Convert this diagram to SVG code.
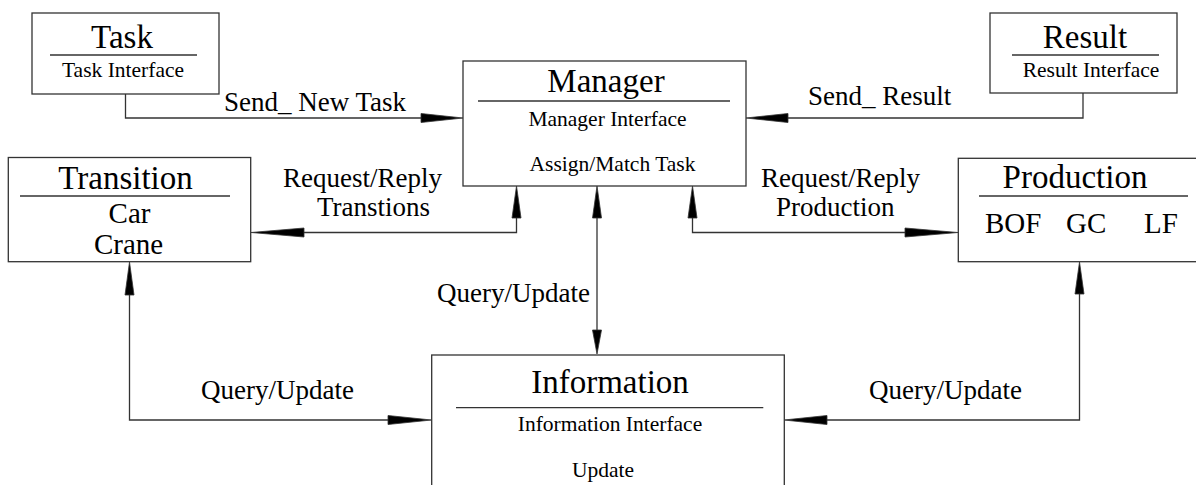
<svg xmlns="http://www.w3.org/2000/svg" width="1196" height="485" viewBox="0 0 1196 485">
  <style>
    .box { fill: #ffffff; stroke: #333333; stroke-width: 1.3; }
    .sep { stroke: #333333; stroke-width: 1.3; }
    .ln { fill: none; stroke: #333333; stroke-width: 1.3; }
    .ah { fill: #000000; stroke: #333333; stroke-width: 0.8; stroke-linejoin: miter; }
    text { font-family: "Liberation Serif", "Times New Roman", serif; fill: #000000; }
    .title { font-size: 33px; }
    .sub { font-size: 21.5px; }
    .item { font-size: 29px; }
    .lbl { font-size: 27px; }
  </style>

  <rect width="1196" height="485" fill="#ffffff"/>

  <!-- connectors between the modules -->
  <g id="connectors">
    <!-- Task -> Manager -->
    <polyline class="ln" points="125.5,94 125.5,118 440,118"/>
    <polygon class="ah" points="463,118 421,113.5 421,122.5"/>
    <text class="lbl" x="224" y="111">Send_ New Task</text>

    <!-- Result -> Manager -->
    <polyline class="ln" points="1083,93 1083,118 770,118"/>
    <polygon class="ah" points="746,118 788,113.5 788,122.5"/>
    <text class="lbl" x="808" y="105">Send_ Result</text>

    <!-- Manager <-> Transition -->
    <polyline class="ln" points="516.5,205 516.5,232.5 280,232.5"/>
    <polygon class="ah" points="516.5,186 512,218 521,218"/>
    <polygon class="ah" points="251,232.5 304,228 304,237"/>
    <text class="lbl" x="283" y="187">Request/Reply</text>
    <text class="lbl" x="317" y="216">Transtions</text>

    <!-- Manager <-> Production -->
    <polyline class="ln" points="692.5,205 692.5,232.5 935,232.5"/>
    <polygon class="ah" points="692.5,186 688,218 697,218"/>
    <polygon class="ah" points="958,232.5 905,228 905,237"/>
    <text class="lbl" x="761" y="187">Request/Reply</text>
    <text class="lbl" x="776" y="216">Production</text>

    <!-- Manager <-> Information -->
    <line class="ln" x1="597" y1="205" x2="597" y2="340"/>
    <polygon class="ah" points="597,186 592.5,218 601.5,218"/>
    <polygon class="ah" points="597,354 592.5,330 601.5,330"/>
    <text class="lbl" x="437" y="302">Query/Update</text>

    <!-- Transition <-> Information -->
    <polyline class="ln" points="129.5,280 129.5,420 410,420"/>
    <polygon class="ah" points="129.5,262 125,295 134,295"/>
    <polygon class="ah" points="431.5,420 388,415.5 388,424.5"/>
    <text class="lbl" x="201" y="399">Query/Update</text>

    <!-- Production <-> Information -->
    <polyline class="ln" points="1079.5,280 1079.5,420 805,420"/>
    <polygon class="ah" points="1079.5,262 1075,294 1084,294"/>
    <polygon class="ah" points="784,420 827,415.5 827,424.5"/>
    <text class="lbl" x="869" y="399">Query/Update</text>
  </g>

  <!-- Task module -->
  <g id="task">
    <rect class="box" x="32" y="13" width="187" height="81"/>
    <line class="sep" x1="50" y1="55" x2="197" y2="55"/>
    <text class="title" x="122" y="48" text-anchor="middle">Task</text>
    <text class="sub" x="123" y="77" text-anchor="middle">Task Interface</text>
  </g>

  <!-- Manager module -->
  <g id="manager">
    <rect class="box" x="463" y="61" width="283" height="125"/>
    <line class="sep" x1="478" y1="101" x2="730" y2="101"/>
    <text class="title" x="606" y="92" text-anchor="middle">Manager</text>
    <text class="sub" x="607.5" y="126" text-anchor="middle">Manager Interface</text>
    <text class="sub" x="612.5" y="171" text-anchor="middle">Assign/Match Task</text>
  </g>

  <!-- Result module -->
  <g id="result">
    <rect class="box" x="990" y="13" width="187" height="80"/>
    <line class="sep" x1="1012" y1="55" x2="1159" y2="55"/>
    <text class="title" x="1085" y="48" text-anchor="middle">Result</text>
    <text class="sub" x="1091" y="77" text-anchor="middle">Result Interface</text>
  </g>

  <!-- Transition module -->
  <g id="transition">
    <rect class="box" x="8.3" y="157.5" width="242.4" height="104.2"/>
    <line class="sep" x1="20" y1="196" x2="230" y2="196"/>
    <text class="title" x="125.5" y="189.3" text-anchor="middle">Transition</text>
    <text class="item" x="129.5" y="223.3" text-anchor="middle">Car</text>
    <text class="item" x="128.5" y="254" text-anchor="middle">Crane</text>
  </g>

  <!-- Production module -->
  <g id="production">
    <rect class="box" x="958.3" y="158.3" width="240" height="103.4"/>
    <line class="sep" x1="979" y1="196" x2="1188" y2="196"/>
    <text class="title" x="1075" y="188.3" text-anchor="middle">Production</text>
    <text class="item" x="985" y="233.3">BOF</text>
    <text class="item" x="1066" y="233.3">GC</text>
    <text class="item" x="1144" y="233.3">LF</text>
  </g>

  <!-- Information module -->
  <g id="information">
    <rect class="box" x="431.7" y="355" width="352.6" height="160"/>
    <line class="sep" x1="456" y1="407.7" x2="763.3" y2="407.7"/>
    <text class="title" x="610" y="393.3" text-anchor="middle">Information</text>
    <text class="sub" x="610" y="430.7" text-anchor="middle">Information Interface</text>
    <text class="sub" x="603" y="476.7" text-anchor="middle">Update</text>
  </g>
</svg>
